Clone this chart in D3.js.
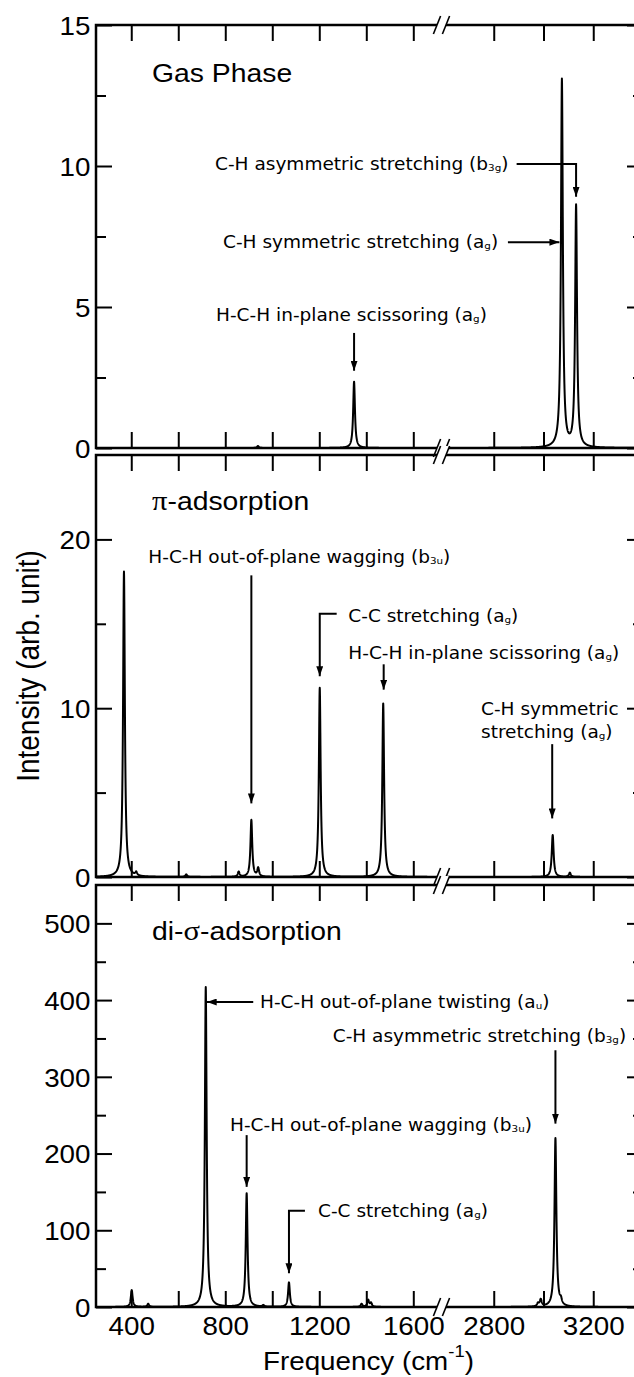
<!DOCTYPE html>
<html>
<head>
<meta charset="utf-8">
<script src="https://cdn.jsdelivr.net/npm/d3@7"></script>
<style>
  body { margin: 0; background: #fff; }
  svg { display: block; }
</style>
</head>
<body>
<script>
// Broken frequency axis: low-frequency and C-H stretching segments
const leftDomain = [250, 1720];
const rightDomain = [2590, 3400];
const leftTicks = [400, 600, 800, 1000, 1200, 1400, 1600];
const rightTicks = [2800, 3000, 3200];
const xTickLabels = [400, 800, 1200, 1600, 2800, 3200];

// Computed modes: frequency (cm^-1) and intensity (arb. unit)
const gasFreq = [939, 1348, 3074, 3131];
const gasInt  = [0.07, 2.35, 13.05, 8.56];

const piFreq = [369, 421, 634, 857, 911, 940, 1202, 1472, 3037, 3106];
const piInt  = [18.1, 0.2, 0.15, 0.3, 3.37, 0.5, 11.2, 10.28, 2.49, 0.25];

const sigmaFreq = [402, 472, 717, 891, 962, 1071, 1380, 1408, 1420, 2978, 2989, 3048, 3070];
const sigmaInt  = [22, 4, 417, 148, 2, 32, 4, 9, 5, 4, 9, 220, 6];

// Lorentzian half width at half maximum (cm^-1)
const hwhm = 4.5;

// Intensity axes
const gasY = [0, 15],   gasMajor = [0, 5, 10, 15],   gasMinor = [2.5, 7.5, 12.5];
const piY = [0, 25],    piMajor = [0, 10, 20],       piMinor = [5, 15];
const sigmaY = [0, 550], sigmaMajor = [0, 100, 200, 300, 400, 500], sigmaMinor = [50, 150, 250, 350, 450];

const W = 634, H = 1377;
const L = 96, R = 643, XB = 441.5;   // frame edges and break position
const SX = 1.09;                     // horizontal text stretch
const SANS = "'Liberation Sans', Arial, Helvetica, sans-serif";
const ANNO = "'DejaVu Sans', Verdana, sans-serif";
const GREEK = "'Liberation Serif', 'Times New Roman', serif";

const xL = d3.scaleLinear().domain(leftDomain).range([L, XB]);
const xR = d3.scaleLinear().domain(rightDomain).range([XB, R]);
const X = f => (f <= leftDomain[1] ? xL(f) : xR(f));

const panels = [
  {
    top: 25, bottom: 448, freq: gasFreq, inten: gasInt,
    yDomain: gasY, major: gasMajor, minor: gasMinor,
    title: ["Gas Phase"], titleY: 82,
    notes: [
      { x: 215, y: 169.5, parts: ["C-H asymmetric stretching (b", { sub: "3g" }, ")"],
        path: [[2892, 10.07], [3131, 10.07], [3131, 8.91]] },
      { x: 223, y: 248, parts: ["C-H symmetric stretching (a", { sub: "g" }, ")"],
        path: [[2857, 7.3], [3064, 7.3]] },
      { x: 216, y: 321, parts: ["H-C-H in-plane scissoring (a", { sub: "g" }, ")"],
        path: [[1348, 4.08], [1348, 2.74]] }
    ]
  },
  {
    top: 455, bottom: 877, freq: piFreq, inten: piInt,
    yDomain: piY, major: piMajor, minor: piMinor,
    title: [{ greek: "\u03c0" }, "-adsorption"], titleY: 510,
    notes: [
      { x: 148.3, y: 563, parts: ["H-C-H out-of-plane wagging (b", { sub: "3u" }, ")"],
        path: [[911, 17.87], [911, 4.36]] },
      { x: 348.3, y: 622, parts: ["C-C stretching (a", { sub: "g" }, ")"],
        path: [[1274, 15.6], [1202, 15.6], [1202, 11.9]] },
      { x: 348.3, y: 658.5, parts: ["H-C-H in-plane scissoring (a", { sub: "g" }, ")"],
        path: [[1474, 12.6], [1474, 11.1]] },
      { x: 481, y: 714.5, parts: ["C-H symmetric"] },
      { x: 481, y: 738, parts: ["stretching (a", { sub: "g" }, ")"],
        path: [[3035, 7.87], [3035, 3.47]] }
    ]
  },
  {
    top: 885, bottom: 1307, freq: sigmaFreq, inten: sigmaInt,
    yDomain: sigmaY, major: sigmaMajor, minor: sigmaMinor,
    title: ["di-", { greek: "\u03c3" }, "-adsorption"], titleY: 940,
    notes: [
      { x: 260, y: 1008, parts: ["H-C-H out-of-plane twisting (a", { sub: "u" }, ")"],
        path: [[919, 397.5], [721, 397.5]] },
      { x: 332.7, y: 1042, parts: ["C-H asymmetric stretching (b", { sub: "3g" }, ")"],
        path: [[3048, 334.6], [3048, 239]] },
      { x: 230, y: 1131, parts: ["H-C-H out-of-plane wagging (b", { sub: "3u" }, ")"],
        path: [[891, 224], [891, 156.6]] },
      { x: 318, y: 1217, parts: ["C-C stretching (a", { sub: "g" }, ")"],
        path: [[1139, 125.4], [1071, 125.4], [1071, 43.9]] }
    ]
  }
];

const svg = d3.select("body").append("svg")
  .attr("width", W).attr("height", H)
  .attr("viewBox", `0 0 ${W} ${H}`);

const defs = svg.append("defs");
defs.append("marker")
  .attr("id", "head")
  .attr("viewBox", "0 0 10 7")
  .attr("refX", 10).attr("refY", 3.5)
  .attr("markerWidth", 10).attr("markerHeight", 7)
  .attr("markerUnits", "userSpaceOnUse")
  .attr("orient", "auto")
  .append("path").attr("d", "M0,0L10,3.5L0,7Z").attr("fill", "#000");

// Text with optional subscripts and Greek letters, stretched horizontally
function richText(g, x, y, parts, size, family, anchor) {
  const t = g.append("text")
    .attr("transform", `translate(${x},${y}) scale(${SX},1)`)
    .attr("font-family", family)
    .attr("font-size", size)
    .attr("text-anchor", anchor || "start")
    .attr("fill", "#000");
  let shifted = false;
  parts.forEach(p => {
    if (typeof p === "string") {
      t.append("tspan").attr("dy", shifted ? -1 : null).text(p);
      shifted = false;
    } else if (p.sub) {
      t.append("tspan").attr("font-size", size * 0.56).attr("dy", 1).text(p.sub);
      shifted = true;
    } else if (p.greek) {
      t.append("tspan").attr("font-family", GREEK).attr("font-size", size * 1.08).text(p.greek);
      shifted = false;
    }
  });
  return t;
}

// Lorentzian-broadened spectrum evaluated on a fine frequency grid
function spectrum(freq, inten, domain) {
  const pts = [];
  for (let f = domain[0]; f <= domain[1] + 1e-9; f += 0.5) {
    let s = 0;
    for (let i = 0; i < freq.length; i++) {
      const d = f - freq[i];
      s += inten[i] * hwhm * hwhm / (d * d + hwhm * hwhm);
    }
    pts.push([f, s]);
  }
  return pts;
}

function styleTicks(g) {
  g.select(".domain").remove();
  g.selectAll(".tick line").attr("stroke", "#000").attr("stroke-width", 2);
}

panels.forEach((p, idx) => {
  const y = d3.scaleLinear().domain(p.yDomain).range([p.bottom, p.top]);
  const g = svg.append("g");

  // clip region for the spectrum
  const clipId = "clip" + idx;
  defs.append("clipPath").attr("id", clipId)
    .append("rect").attr("x", L).attr("y", p.top - 1)
    .attr("width", R - L).attr("height", p.bottom - p.top + 1);

  const line = d3.line().curve(d3.curveLinear);
  [[xL, leftDomain], [xR, rightDomain]].forEach(([xs, dom]) => {
    const pts = spectrum(p.freq, p.inten, dom);
    g.append("path")
      .attr("clip-path", `url(#${clipId})`)
      .attr("d", line.x(d => xs(d[0])).y(d => y(d[1]))(pts))
      .attr("fill", "none").attr("stroke", "#000")
      .attr("stroke-width", 2).attr("stroke-linejoin", "round");
  });

  // y axes, left (labelled) and right
  const yl = g.append("g").attr("transform", `translate(${L},0)`)
    .call(d3.axisLeft(y).tickValues(p.major).tickSize(-16).tickSizeOuter(0)
      .tickFormat(d3.format("d")));
  styleTicks(yl);
  yl.selectAll(".tick text")
    .attr("x", 0).attr("dy", "0.36em")
    .attr("transform", `translate(-5.5,0) scale(${SX},1)`)
    .attr("font-family", SANS).attr("font-size", 25.5).attr("fill", "#000");

  styleTicks(g.append("g").attr("transform", `translate(${L},0)`)
    .call(d3.axisLeft(y).tickValues(p.minor).tickSize(-10).tickSizeOuter(0).tickFormat("")));
  styleTicks(g.append("g").attr("transform", `translate(${R},0)`)
    .call(d3.axisRight(y).tickValues(p.major).tickSize(-16).tickSizeOuter(0).tickFormat("")));
  styleTicks(g.append("g").attr("transform", `translate(${R},0)`)
    .call(d3.axisRight(y).tickValues(p.minor).tickSize(-10).tickSizeOuter(0).tickFormat("")));

  // x axes, top and bottom of each panel, both segments
  [[xL, leftTicks], [xR, rightTicks]].forEach(([xs, ticks]) => {
    styleTicks(g.append("g").attr("transform", `translate(0,${p.top})`)
      .call(d3.axisTop(xs).tickValues(ticks).tickSize(-16).tickSizeOuter(0).tickFormat("")));
    const last = idx === panels.length - 1;
    const xb = g.append("g").attr("transform", `translate(0,${p.bottom})`)
      .call(d3.axisBottom(xs).tickValues(ticks).tickSize(-16).tickSizeOuter(0).tickPadding(9.7)
        .tickFormat(d => (last && xTickLabels.includes(d)) ? String(d) : ""));
    styleTicks(xb);
    xb.selectAll(".tick text")
      .attr("transform", `scale(${SX},1)`)
      .attr("font-family", SANS).attr("font-size", 25.5).attr("fill", "#000");
  });

  // frame
  g.append("rect")
    .attr("x", L).attr("y", p.top)
    .attr("width", R - L).attr("height", p.bottom - p.top)
    .attr("fill", "none").attr("stroke", "#000").attr("stroke-width", 2.5);

  // panel title
  richText(g, 152, p.titleY, p.title, 26, SANS);

  // mode annotations
  p.notes.forEach(n => {
    richText(g, n.x, n.y, n.parts, 17, ANNO);
    if (n.path) {
      g.append("path")
        .attr("d", d3.line()(n.path.map(([f, v]) => [X(f), y(v)])))
        .attr("fill", "none").attr("stroke", "#000").attr("stroke-width", 2)
        .attr("marker-end", "url(#head)");
    }
  });

  // axis break marks on top and bottom edges
  [p.top, p.bottom].forEach(yy => {
    const h = 9, dx = 3.6, off = 4.5;
    g.append("path")
      .attr("d", `M${XB - off - dx},${yy + h}L${XB - off + dx},${yy - h}L${XB + off + dx},${yy - h}L${XB + off - dx},${yy + h}Z`)
      .attr("fill", "#fff").attr("stroke", "none");
    [-off, off].forEach(o => {
      g.append("line")
        .attr("x1", XB + o - dx).attr("y1", yy + h)
        .attr("x2", XB + o + dx).attr("y2", yy - h)
        .attr("stroke", "#000").attr("stroke-width", 1.6);
    });
  });
});

// axis titles
svg.append("text")
  .attr("transform", `translate(38.5,666) scale(${SX},1) rotate(-90)`)
  .attr("text-anchor", "middle")
  .attr("font-family", SANS).attr("font-size", 28).attr("fill", "#000")
  .text("Intensity (arb. unit)");

const xt = svg.append("text")
  .attr("transform", `translate(263,1370) scale(${SX},1)`)
  .attr("font-family", SANS).attr("font-size", 25.5).attr("fill", "#000");
xt.append("tspan").text("Frequency (cm");
xt.append("tspan").attr("font-size", 17).attr("dy", -13).text("-1");
xt.append("tspan").attr("dy", 13).text(")");
</script>
</body>
</html>
